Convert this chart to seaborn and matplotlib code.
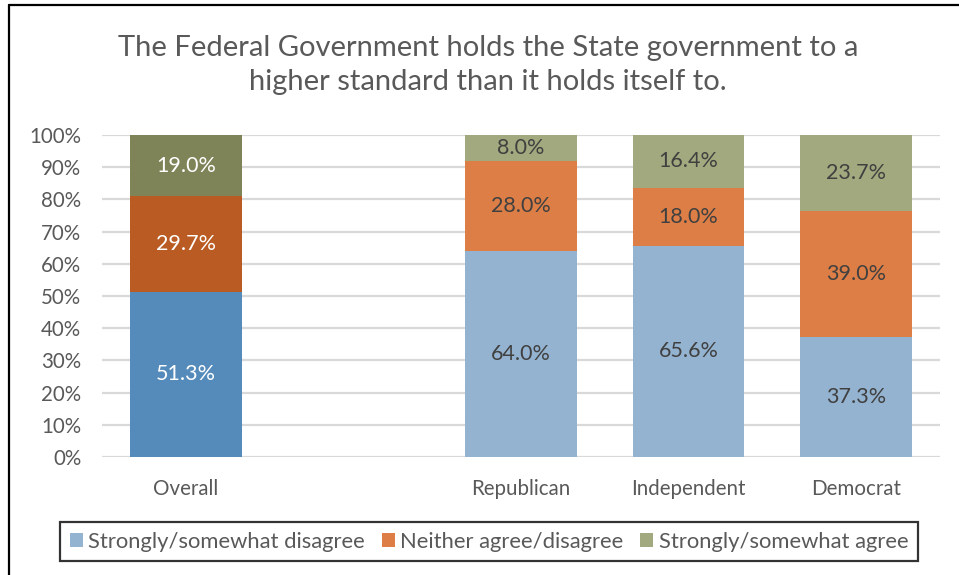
import matplotlib
matplotlib.use("Agg")
import matplotlib.pyplot as plt
from matplotlib.lines import Line2D
from matplotlib.patches import Patch
import seaborn as sns
import pandas as pd

# Survey data (percent of respondents)
categories = ["Overall", " ", "Republican", "Independent", "Democrat"]
groups = ["Overall", "Republican", "Independent", "Democrat"]
disagree = [51.3, 64.0, 65.6, 37.3]
neither = [29.7, 28.0, 18.0, 39.0]
agree = [19.0, 8.0, 16.4, 23.7]
series_names = ["Strongly/somewhat disagree", "Neither agree/disagree", "Strongly/somewhat agree"]
title = "The Federal Government holds the State government to a\nhigher standard than it holds itself to."

# colours: darker shades for the overall bar, lighter for party bars
dark = {"disagree": "#558BBB", "neither": "#B95B22", "agree": "#7F8458"}
light = {"disagree": "#94B3D0", "neither": "#DD7E46", "agree": "#A3A97E"}
grid_color = "#D9D9D9"
text_gray = "#595959"

sns.set_theme(style="white")
plt.rcParams["font.family"] = ["Lato", "DejaVu Sans"]

df = pd.DataFrame({"group": groups, "disagree": disagree, "neither": neither, "agree": agree})
df["cum1"] = df["disagree"]
df["cum2"] = df["disagree"] + df["neither"]
df["cum3"] = df["cum2"] + df["agree"]

fig = plt.figure(figsize=(9.59, 5.75), dpi=100)
ax = fig.add_axes([102 / 959, 1 - 457 / 575, (940 - 102) / 959, (457 - 135) / 575])

def pal(key):
    p = {c: light[key] for c in categories}
    p["Overall"] = dark[key]
    return p

# stacked bars drawn as overlaid cumulative totals
for col, key in [("cum3", "agree"), ("cum2", "neither"), ("cum1", "disagree")]:
    sns.barplot(data=df, x="group", y=col, hue="group", order=categories, hue_order=categories,
                palette=pal(key), dodge=False, width=0.665, linewidth=0, legend=False,
                saturation=1, errorbar=None, ax=ax, zorder=3)

ax.set_ylim(0, 100)
ax.set_xlim(-0.5, 4.5)
ax.set_yticks(range(0, 101, 10))
ax.set_yticklabels([f"{v}%" for v in range(0, 101, 10)])
ax.yaxis.grid(True, color=grid_color, linewidth=1.6, zorder=0)
ax.set_axisbelow(True)
for s in ax.spines.values():
    s.set_visible(False)
ax.tick_params(axis="both", length=0, labelsize=14.8, colors=text_gray)
ax.tick_params(axis="y", pad=15)
ax.tick_params(axis="x", pad=16)
ax.set_xlabel("")
ax.set_ylabel("")

# segment value labels
for i, g in enumerate(groups):
    xpos = categories.index(g)
    row = df.iloc[i]
    color = "white" if g == "Overall" else "#404040"
    segs = [(0, row["disagree"]), (row["cum1"], row["neither"]), (row["cum2"], row["agree"])]
    for base, h in segs:
        ax.text(xpos, base + h / 2, f"{h:.1f}%", ha="center", va="center",
                fontsize=15.5, color=color, zorder=5)

fig.text(488 / 959, 1 - 65 / 575, title, ha="center", va="center", fontsize=21,
         color=text_gray, linespacing=1.42)

handles = [Patch(facecolor=light[k], edgecolor="none") for k in ["disagree", "neither", "agree"]]
leg = fig.legend(handles, series_names, loc="center", bbox_to_anchor=(489 / 959, 1 - 541.5 / 575),
                 ncol=3, frameon=True, fontsize=15.8, handlelength=0.6, handleheight=0.6,
                 handletextpad=0.25, columnspacing=0.75, borderpad=0.45, borderaxespad=0,
                 fancybox=False)
leg.get_frame().set_edgecolor("black")
leg.get_frame().set_linewidth(1.6)
for t in leg.get_texts():
    t.set_color(text_gray)

# outer frame lines
fig.add_artist(Line2D([9 / 959, 1], [1 - 5 / 575, 1 - 5 / 575], color="black", linewidth=1.6))
fig.add_artist(Line2D([9 / 959, 9 / 959], [0, 1 - 5 / 575], color="black", linewidth=1.6))

fig.savefig("out.png", dpi=100)
